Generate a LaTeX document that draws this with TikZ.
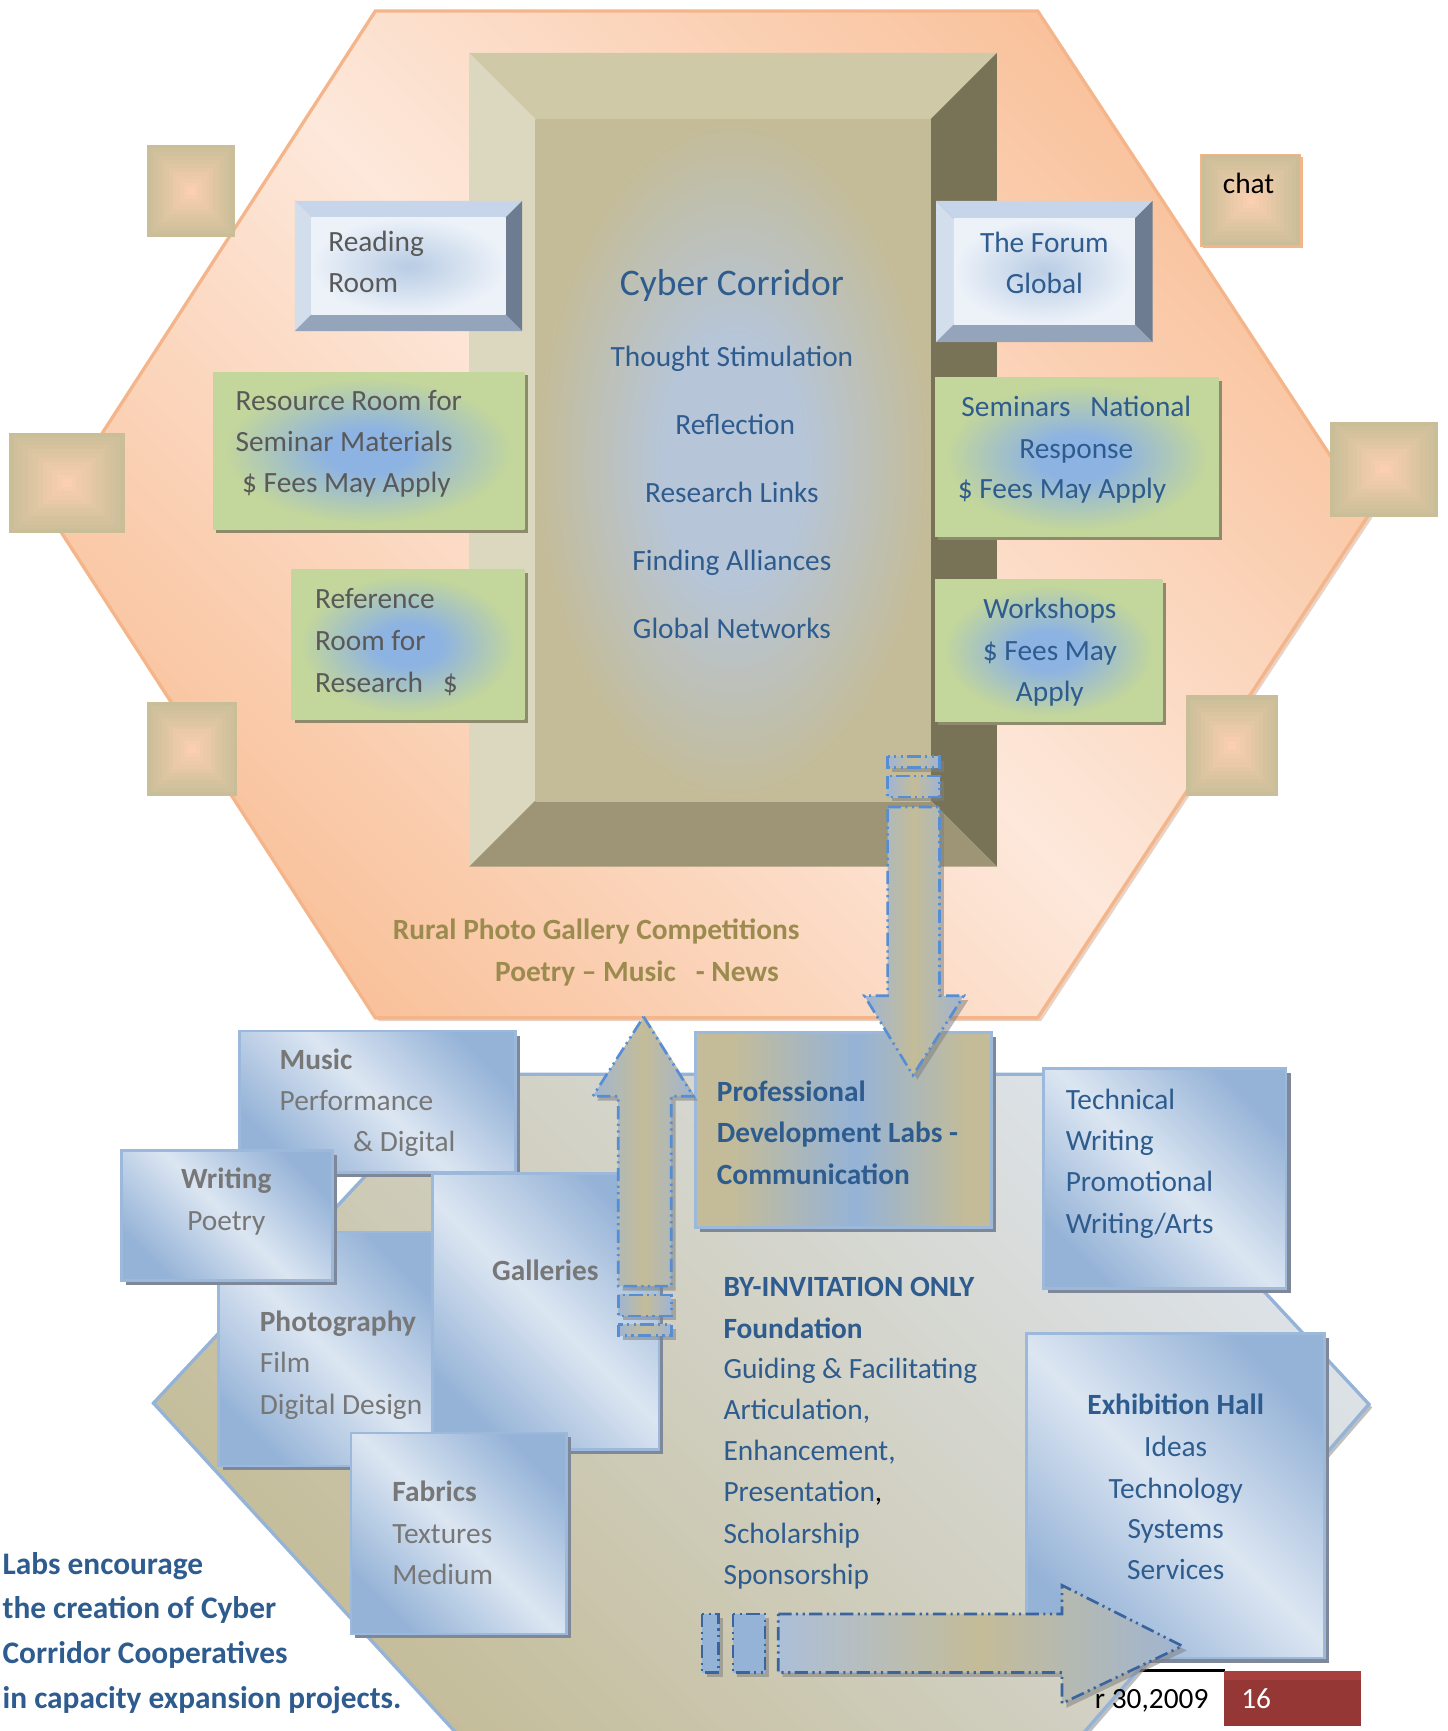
\documentclass[tikz,border=0pt]{standalone}
\usepackage{fontspec}
\setmainfont{Carlito}
\usetikzlibrary{calc}
\definecolor{khaki}{HTML}{C4BC98}
\definecolor{hexor}{HTML}{F9C29C}
\definecolor{hexlt}{HTML}{FDE8DB}
\definecolor{hexline}{HTML}{F5B58A}
\definecolor{bvtop}{HTML}{CFC9A8}
\definecolor{bvleft}{HTML}{DCD7BF}
\definecolor{bvright}{HTML}{787256}
\definecolor{bvbot}{HTML}{9D9575}
\definecolor{bvin}{HTML}{C4BC98}
\definecolor{cblue}{HTML}{B6C5D8}
\definecolor{rrtop}{HTML}{C6D5E9}
\definecolor{rrleft}{HTML}{D3DEED}
\definecolor{rrright}{HTML}{6E7C92}
\definecolor{rrbot}{HTML}{94A4BA}
\definecolor{rrin}{HTML}{B8CCE4}
\definecolor{rrout}{HTML}{EDF2F9}
\definecolor{sqkhaki}{HTML}{C9BE98}
\definecolor{sqpeach}{HTML}{FBCFB0}
\definecolor{ggreen}{HTML}{C3D69B}
\definecolor{gbluec}{HTML}{8DB3E2}
\definecolor{gshadow}{HTML}{8E8B6C}
\definecolor{bluemd}{HTML}{95B3D7}
\definecolor{bluelt}{HTML}{DCE6F2}
\definecolor{bluebord}{HTML}{9CB8DB}
\definecolor{bshadow}{HTML}{7F8899}
\definecolor{hexblt}{HTML}{DDE3EA}
\definecolor{profblue}{HTML}{95B3D7}
\definecolor{arln}{HTML}{558ED5}
\definecolor{arln2}{HTML}{3A64A0}
\definecolor{arblue}{HTML}{A0B5D2}
\definecolor{txtblue}{HTML}{2E5C8E}
\definecolor{txtgray}{HTML}{595959}
\definecolor{txtgray2}{HTML}{777777}
\definecolor{olive}{HTML}{9B8B4E}
\definecolor{redbx}{HTML}{953735}
\definecolor{redtop}{HTML}{A8403D}
\pgfdeclareradialshading{greenrad}{\pgfpoint{0bp}{0bp}}{color(0bp)=(gbluec); color(7bp)=(gbluec); color(23bp)=(ggreen); color(50bp)=(ggreen)}
\pgfdeclareradialshading{bigrad}{\pgfpoint{0bp}{0bp}}{color(0bp)=(cblue); color(9bp)=(cblue); color(25bp)=(bvin); color(50bp)=(bvin)}
\pgfdeclarehorizontalshading{profsh}{100bp}{color(0bp)=(khaki); color(31bp)=(khaki); color(52bp)=(profblue); color(71bp)=(khaki); color(100bp)=(khaki)}
\newcommand\fsn{\fontsize{13.3}{16}\selectfont}
\newcommand\fsl{\fontsize{17}{20}\selectfont}
\newcommand\fsm{\fontsize{14.2}{17}\selectfont}
\newcommand\bevel[9]{%
 \fill[#6] (#1,#2) -- (#3,#2) -- (#3-#5,#2+#5) -- (#1+#5,#2+#5) -- cycle;
 \fill[#7] (#1,#2) -- (#1+#5,#2+#5) -- (#1+#5,#4-#5) -- (#1,#4) -- cycle;
 \fill[#8] (#3,#2) -- (#3,#4) -- (#3-#5,#4-#5) -- (#3-#5,#2+#5) -- cycle;
 \fill[#9] (#1,#4) -- (#3,#4) -- (#3-#5,#4-#5) -- (#1+#5,#4-#5) -- cycle;}
\newcommand\sqgrad[4]{%
 \foreach \i in {0,...,11}{%
  \pgfmathsetmacro\ax{#1+(#3-#1)*\i/24}%
  \pgfmathsetmacro\ay{#2+(#4-#2)*\i/24}%
  \pgfmathsetmacro\bx{#3-(#3-#1)*\i/24}%
  \pgfmathsetmacro\by{#4-(#4-#2)*\i/24}%
  \pgfmathtruncatemacro\pc{\i*100/11}%
  \fill[sqpeach!\pc!sqkhaki] (\ax,\ay) rectangle (\bx,\by);
 }}
\newcommand\greenbox[4]{%
 \fill[gshadow] (#1+3,#2+3) rectangle (#3+3,#4+3);
 \shade[shading=greenrad] (#1,#2) rectangle (#3,#4);}
\newcommand\bluebox[4]{%
 \fill[bshadow] (#1+4,#2+4) rectangle (#3+4,#4+4);
 \draw[bluebord, line width=1.2pt, top color=bluemd, bottom color=bluemd, middle color=bluelt, shading angle=-45] (#1,#2) rectangle (#3,#4);}
\tikzset{
 lbl/.style={inner sep=0pt, font=\fsn, anchor=base west},
 clbl/.style={inner sep=0pt, font=\fsn, anchor=base},
 arrowline/.style={draw=arln, line width=1.2pt, dash pattern=on 6pt off 2pt on 1pt off 2pt on 1pt off 2pt},
 arrowline2/.style={draw=arln2, line width=1.2pt, dash pattern=on 6pt off 2pt on 1pt off 2pt on 1pt off 2pt},
 arfill/.style={left color=arblue, right color=arblue, middle color=khaki},
 ashadow/.style={fill=gray, opacity=.55}
}
\begin{document}
\begin{tikzpicture}[x=0.5pt,y=-0.5pt]
\useasboundingbox (0,0) rectangle (1311,1568);
% ---------- top hexagon
\fill[hexline!70!gray, opacity=.5] (343,13) -- (943,13) -- (1243,469) -- (943,925) -- (343,925) -- (48,469) -- cycle;
\draw[hexline, line width=1.5pt, top color=hexor, bottom color=hexor, middle color=hexlt, shading angle=-45]
  (340,10) -- (940,10) -- (1240,466) -- (940,922) -- (340,922) -- (45,466) -- cycle;
% ---------- big bevel
\bevel{425}{48}{903}{785}{60}{bvtop}{bvleft}{bvright}{bvbot}
\shade[shading=bigrad] (485,108) rectangle (843,726);
% ---------- small squares
\sqgrad{133}{131}{213}{215}
\sqgrad{8}{392}{113}{483}
\sqgrad{133}{636}{215}{721}
\sqgrad{1205}{382}{1303}{468}
\sqgrad{1074}{630}{1158}{721}
\fill[hexline] (1090,142) rectangle (1180,225);
\sqgrad{1088}{140}{1178}{223}
\draw[hexline, line width=0.8pt] (1088,140) rectangle (1178,223);
% ---------- bevel boxes
\bevel{267}{182}{473}{300}{15}{rrtop}{rrleft}{rrright}{rrbot}
\shade[inner color=rrin, outer color=rrout] (282,197) rectangle (458,285);
\bevel{848}{182}{1044}{310}{16}{rrtop}{rrleft}{rrright}{rrbot}
\shade[inner color=rrin, outer color=rrout] (864,198) rectangle (1028,294);
% ---------- green boxes
\greenbox{193}{337}{475}{480}
\greenbox{264}{516}{475}{652}
\greenbox{847}{342}{1104}{486}
\greenbox{847}{525}{1053}{654}
% ---------- top texts
\node[lbl, text=txtgray] (rr1) at (297,228) {Reading};
\node[lbl, text=txtgray] (rr2) at (297,265) {Room};
\node[clbl, font=\fsl, text=txtblue] (cc) at (663,268) {Cyber Corridor};
\node[clbl, text=txtblue] (cc1) at (663,332) {Thought Stimulation};
\node[clbl, text=txtblue] (cc2) at (666,394) {Reflection};
\node[clbl, text=txtblue] (cc3) at (663,455) {Research Links};
\node[clbl, text=txtblue] (cc4) at (663,517) {Finding Alliances};
\node[clbl, text=txtblue] (cc5) at (663,578) {Global Networks};
\node[clbl, text=txtblue] (fg1) at (946,229) {The Forum};
\node[clbl, text=txtblue] (fg2) at (946,266) {Global};
\node[lbl, text=txtgray] (rs1) at (213,372) {Resource Room for};
\node[lbl, text=txtgray] (rs2) at (213,409) {Seminar Materials};
\node[lbl, text=txtgray] (rs3) at (219,446) {\$ Fees May Apply};
\node[lbl, text=txtgray] (rf1) at (285,551) {Reference};
\node[lbl, text=txtgray] (rf2) at (285,589) {Room for};
\node[lbl, text=txtgray] (rf3) at (285,627) {Research\ \ \ \$};
\node[clbl, text=txtblue] (sm1) at (975,377) {Seminars\ \ \ National};
\node[clbl, text=txtblue] (sm2) at (975,415) {Response};
\node[clbl, text=txtblue] (sm3) at (962,452) {\$ Fees May Apply};
\node[clbl, text=txtblue] (ws1) at (951,560) {Workshops};
\node[clbl, text=txtblue] (ws2) at (951,598) {\$ Fees May};
\node[clbl, text=txtblue] (ws3) at (951,635) {Apply};
\node[clbl, text=black] (chat) at (1131,175) {chat};
\node[clbl, text=olive, font=\fsn\bfseries] (ru1) at (540,851) {Rural Photo Gallery Competitions};
\node[clbl, text=olive, font=\fsn\bfseries] (ru2) at (577,889) {Poetry -- Music\ \ \ - News};
% ---------- footer line (under bottom hexagon)
\draw[black, line width=1.2pt] (940,1513) -- (1110,1513);
% ---------- bottom hexagon
\fill[gray, opacity=.5] (420,976) -- (965,976) -- (1243,1275) -- (980,1578) -- (421,1578) -- (142,1274) -- cycle;
\draw[bluemd, line width=1.5pt, top color=hexblt, bottom color=khaki, shading angle=-45]
  (417,973) -- (962,973) -- (1240,1272) -- (977,1575) -- (418,1575) -- (139,1271) -- cycle;
\node[inner sep=0pt, font=\fsn, anchor=base east, text=black] (date) at (1095,1548) {r 30,2009};
% ---------- blue boxes
\bluebox{217}{934}{467}{1062}
\bluebox{198}{1116}{392}{1328}
\bluebox{392}{1063}{597}{1313}
\bluebox{110}{1042}{301}{1160}
\bluebox{318}{1298}{513}{1480}
\bluebox{945}{968}{1165}{1167}
\bluebox{930}{1208}{1200}{1502}
% professional box
\fill[bshadow] (634,939) rectangle (902,1116);
\draw[bluebord, line width=1.2pt, shading=profsh] (630,935) rectangle (898,1112);
% ---------- bottom texts
\node[lbl, text=txtgray2, font=\fsn\bfseries] (mu1) at (253,969) {Music};
\node[lbl, text=txtgray2] (mu2) at (253,1006) {Performance};
\node[inner sep=0pt, font=\fsn, anchor=base east, text=txtgray2] (mu3) at (413,1043) {\& Digital};
\node[clbl, text=txtgray2, font=\fsn\bfseries] (wr1) at (205,1077) {Writing};
\node[clbl, text=txtgray2] (wr2) at (205,1115) {Poetry};
\node[clbl, text=txtgray2, font=\fsn\bfseries] (gal) at (494,1160) {Galleries};
\node[lbl, text=txtgray2, font=\fsn\bfseries] (ph1) at (235,1206) {Photography};
\node[lbl, text=txtgray2] (ph2) at (235,1243) {Film};
\node[lbl, text=txtgray2] (ph3) at (235,1281) {Digital Design};
\node[lbl, text=txtgray2, font=\fsn\bfseries] (fa1) at (355,1360) {Fabrics};
\node[lbl, text=txtgray2] (fa2) at (355,1398) {Textures};
\node[lbl, text=txtgray2] (fa3) at (355,1435) {Medium};
\node[lbl, text=txtblue, font=\fsn\bfseries] (pd1) at (649,998) {Professional};
\node[lbl, text=txtblue, font=\fsn\bfseries] (pd2) at (649,1035) {Development Labs -};
\node[lbl, text=txtblue, font=\fsn\bfseries] (pd3) at (649,1073) {Communication};
\node[lbl, text=txtblue] (tw1) at (965,1005) {Technical};
\node[lbl, text=txtblue] (tw2) at (965,1042) {Writing};
\node[lbl, text=txtblue] (tw3) at (965,1079) {Promotional};
\node[lbl, text=txtblue] (tw4) at (965,1117) {Writing/Arts};
\node[lbl, text=txtblue, font=\fsn\bfseries] (by1) at (655,1174) {BY-INVITATION ONLY};
\node[lbl, text=txtblue, font=\fsn\bfseries] (by2) at (655,1212) {Foundation};
\node[lbl, text=txtblue] (by3) at (655,1249) {Guiding \& Facilitating};
\node[lbl, text=txtblue] (by4) at (655,1286) {Articulation,};
\node[lbl, text=txtblue] (by5) at (655,1323) {Enhancement,};
\node[lbl, text=txtblue] (by6) at (655,1360) {Presentation{\color{black},}};
\node[lbl, text=txtblue] (by7) at (655,1398) {Scholarship};
\node[lbl, text=txtblue] (by8) at (655,1435) {Sponsorship};
\node[clbl, text=txtblue, font=\fsn\bfseries] (ex1) at (1065,1281) {Exhibition Hall};
\node[clbl, text=txtblue] (ex2) at (1065,1319) {Ideas};
\node[clbl, text=txtblue] (ex3) at (1065,1357) {Technology};
\node[clbl, text=txtblue] (ex4) at (1065,1394) {Systems};
\node[clbl, text=txtblue] (ex5) at (1065,1431) {Services};
\node[lbl, text=txtblue, font=\fsm\bfseries] (lb1) at (2,1426) {Labs encourage};
\node[lbl, text=txtblue, font=\fsm\bfseries] (lb2) at (2,1466) {the creation of Cyber};
\node[lbl, text=txtblue, font=\fsm\bfseries] (lb3) at (2,1507) {Corridor Cooperatives};
\node[lbl, text=txtblue, font=\fsm\bfseries] (lb4) at (2,1548) {in capacity expansion projects.};
% ---------- up arrow
\fill[ashadow] (587,925) -- (632,997) -- (612,997) -- (612,1169) -- (564,1169) -- (564,997) -- (541,997) -- cycle;
\fill[ashadow] (564,1177) rectangle (612,1196);
\fill[ashadow] (564,1204) rectangle (612,1214);
\path[arrowline, arfill] (583,921) -- (628,993) -- (608,993) -- (608,1165) -- (560,1165) -- (560,993) -- (537,993) -- cycle;
\path[arrowline, arfill] (560,1173) rectangle (608,1192);
\path[arrowline, arfill] (560,1200) rectangle (608,1210);
% ---------- down arrow
\fill[ashadow] (808,735) -- (855,735) -- (855,906) -- (877,906) -- (831,978) -- (787,906) -- (808,906) -- cycle;
\fill[ashadow] (808,689) rectangle (855,699);
\fill[ashadow] (808,707) rectangle (855,726);
\path[arrowline, arfill] (804,731) -- (851,731) -- (851,902) -- (873,902) -- (827,974) -- (783,902) -- (804,902) -- cycle;
\path[arrowline, arfill] (804,685) rectangle (851,695);
\path[arrowline, arfill] (804,703) rectangle (851,722);
% ---------- right arrow
\fill[ashadow] (709,1466) -- (966,1466) -- (966,1440) -- (1075,1495) -- (966,1547) -- (966,1519) -- (709,1519) -- cycle;
\fill[ashadow] (640,1466) rectangle (655,1519);
\fill[ashadow] (668,1466) rectangle (697,1519);
\path[arrowline2, left color=arblue!80!bluelt, right color=arblue, middle color=khaki] (705,1462) -- (962,1462) -- (962,1436) -- (1071,1491) -- (962,1543) -- (962,1515) -- (705,1515) -- cycle;
\path[arrowline2, fill=bluemd] (636,1462) rectangle (651,1515);
\path[arrowline2, fill=bluemd] (664,1462) rectangle (693,1515);
% ---------- page number
\fill[redbx] (1109,1514) rectangle (1233,1563);
\fill[redtop] (1109,1514) rectangle (1233,1522);
\node[inner sep=0pt, font=\fsn, anchor=base west, text=white] (pg) at (1124,1548) {16};
\end{tikzpicture}
\end{document}
